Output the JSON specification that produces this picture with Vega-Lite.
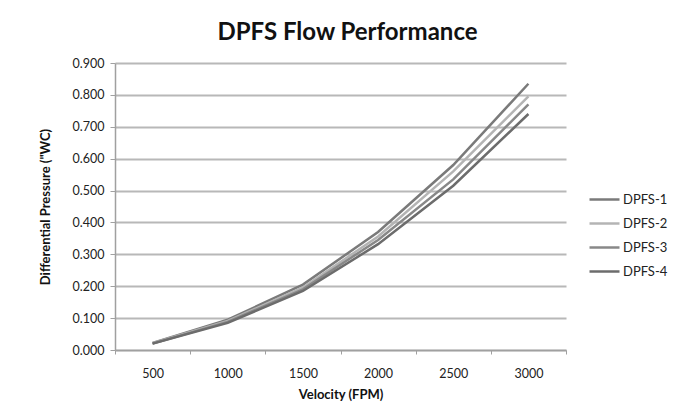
{
  "$schema": "https://vega.github.io/schema/vega-lite/v6.json",
  "width": 451,
  "height": 287,
  "autosize": {"type": "none"},
  "padding": {"left": 115, "top": 63, "right": 118, "bottom": 69},
  "background": "white",
  "title": {
    "text": "DPFS Flow Performance",
    "anchor": "middle",
    "fontSize": 24,
    "font": "Lato",
    "fontWeight": "bold",
    "color": "#111111",
    "offset": 12,
    "dx": 7
  },
  "data": {
    "values": [
      {"v": "500", "s": "DPFS-1", "p": 0.022},
      {"v": "1000", "s": "DPFS-1", "p": 0.095},
      {"v": "1500", "s": "DPFS-1", "p": 0.205},
      {"v": "2000", "s": "DPFS-1", "p": 0.37},
      {"v": "2500", "s": "DPFS-1", "p": 0.58},
      {"v": "3000", "s": "DPFS-1", "p": 0.835},
      {"v": "500", "s": "DPFS-2", "p": 0.021},
      {"v": "1000", "s": "DPFS-2", "p": 0.091},
      {"v": "1500", "s": "DPFS-2", "p": 0.196},
      {"v": "2000", "s": "DPFS-2", "p": 0.356},
      {"v": "2500", "s": "DPFS-2", "p": 0.56},
      {"v": "3000", "s": "DPFS-2", "p": 0.795},
      {"v": "500", "s": "DPFS-3", "p": 0.02},
      {"v": "1000", "s": "DPFS-3", "p": 0.088},
      {"v": "1500", "s": "DPFS-3", "p": 0.19},
      {"v": "2000", "s": "DPFS-3", "p": 0.345},
      {"v": "2500", "s": "DPFS-3", "p": 0.535},
      {"v": "3000", "s": "DPFS-3", "p": 0.77},
      {"v": "500", "s": "DPFS-4", "p": 0.02},
      {"v": "1000", "s": "DPFS-4", "p": 0.085},
      {"v": "1500", "s": "DPFS-4", "p": 0.185},
      {"v": "2000", "s": "DPFS-4", "p": 0.332},
      {"v": "2500", "s": "DPFS-4", "p": 0.515},
      {"v": "3000", "s": "DPFS-4", "p": 0.74}
    ]
  },
  "mark": {"type": "line", "strokeWidth": 2.5},
  "encoding": {
    "x": {
      "field": "v",
      "type": "ordinal",
      "sort": null,
      "scale": {"type": "band", "paddingInner": 0, "paddingOuter": 0},
      "title": "Velocity (FPM)",
      "axis": {
        "labelAngle": 0,
        "labelPadding": 13,
        "tickBand": "extent",
        "tickSize": 4,
        "tickColor": "#a0a0a0",
        "domainColor": "#a0a0a0",
        "domainWidth": 1.5,
        "titlePadding": 9
      }
    },
    "y": {
      "field": "p",
      "type": "quantitative",
      "scale": {"domain": [0, 0.9], "nice": false},
      "title": "Differential Pressure (\"WC)",
      "axis": {
        "values": [0, 0.1, 0.2, 0.3, 0.4, 0.5, 0.6, 0.7, 0.8, 0.9],
        "format": ".3f",
        "grid": true,
        "gridColor": "#b8b8b8",
        "gridWidth": 2,
        "tickSize": 5,
        "tickColor": "#a0a0a0",
        "domainColor": "#a0a0a0",
        "domainWidth": 1.5,
        "labelPadding": 6,
        "titlePadding": 20
      }
    },
    "color": {
      "field": "s",
      "type": "nominal",
      "scale": {
        "domain": ["DPFS-1", "DPFS-2", "DPFS-3", "DPFS-4"],
        "range": ["#7a7a7a", "#b4b4b4", "#888888", "#6c6c6c"]
      },
      "legend": {
        "title": null,
        "orient": "none",
        "legendX": 473,
        "legendY": 120,
        "symbolType": "M-1,0H1",
        "symbolSize": 900,
        "symbolStrokeWidth": 2.5,
        "rowPadding": -6,
        "labelOffset": 2,
        "labelFontSize": 13,
        "labelFont": "Lato",
        "labelColor": "#222222"
      }
    }
  },
  "config": {
    "view": {"stroke": null},
    "axis": {
      "labelFont": "Lato",
      "labelFontSize": 12.5,
      "labelColor": "#222222",
      "titleFont": "Lato",
      "titleFontSize": 13,
      "titleFontWeight": "bold",
      "titleColor": "#111111"
    },
    "axisX": {"grid": false}
  }
}
